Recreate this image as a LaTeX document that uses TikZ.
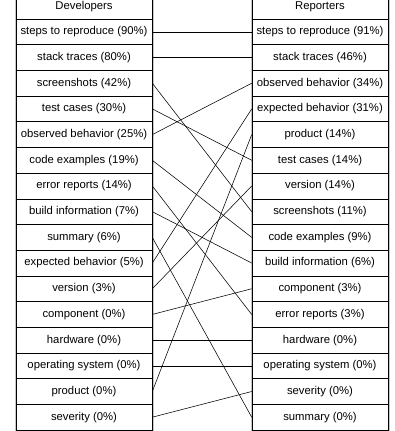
\documentclass[tikz,border=0pt]{standalone}
\usepackage{fontspec}
\setmainfont{Liberation Sans}

\begin{document}
\begin{tikzpicture}[x=1pt,y=1pt,
    item/.style={draw,fill=white,line width=0.6pt,minimum width=136pt,
      minimum height=25.69pt,inner sep=0pt,font=\fontsize{11.3}{13}\selectfont},
    link/.style={line width=0.55pt}]

    \useasboundingbox (0,0) rectangle (394,-431);
    \clip (0,0) rectangle (394,-431);

    % soft shadow round both columns
    \fill[gray!45] (14.5,6) rectangle (153.5,-431.5);
    \fill[gray!45] (250.5,6) rectangle (389.5,-431.5);

    % column heads
    \node[item,minimum height=25pt] (devhead) at (84,-6.5) {Developers};
    \node[item,minimum height=25pt] (rephead) at (320,-6.5) {Reporters};

    % the developers column
    \foreach \txt [count=\i from 0] in {steps to reproduce (90\%),stack traces (80\%),
      screenshots (42\%),test cases (30\%),observed behavior (25\%),code examples (19\%),
      error reports (14\%),build information (7\%),summary (6\%),expected behavior (5\%),
      version (3\%),component (0\%),hardware (0\%),operating system (0\%),
      product (0\%),severity (0\%)}
      \node[item] (dev\i) at (84,{-19-25.69*(\i+0.5)}) {\txt};

    % the reporters column
    \foreach \txt [count=\i from 0] in {steps to reproduce (91\%),stack traces (46\%),
      observed behavior (34\%),expected behavior (31\%),product (14\%),test cases (14\%),
      version (14\%),screenshots (11\%),code examples (9\%),build information (6\%),
      component (3\%),error reports (3\%),hardware (0\%),operating system (0\%),
      severity (0\%),summary (0\%)}
      \node[item] (rep\i) at (320,{-19-25.69*(\i+0.5)}) {\txt};

    % the links between ranks
    \foreach \a/\b in {0/0,1/1,2/7,3/5,4/2,5/8,6/11,7/9,8/15,9/3,10/6,11/10,
      12/12,13/13,14/4,15/14}
      \draw[link] (dev\a.east) -- (rep\b.west);
  \end{tikzpicture}
\end{document}
